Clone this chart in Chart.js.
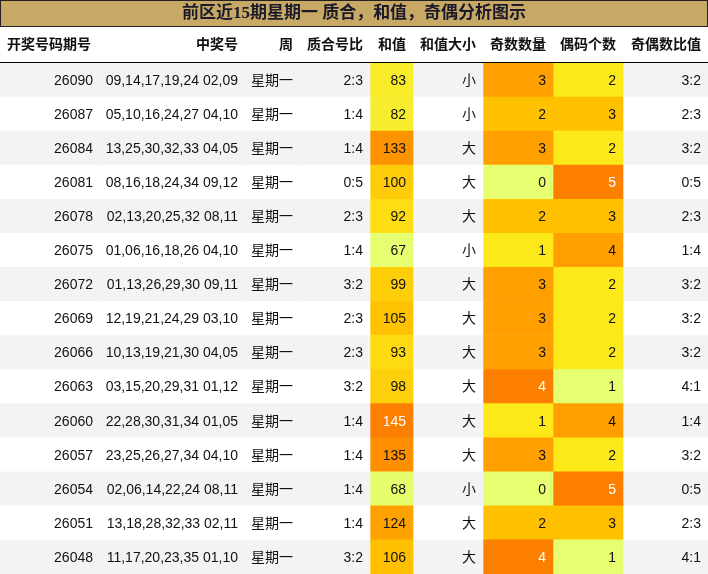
<!DOCTYPE html>
<html><head><meta charset="utf-8">
<script src="https://cdn.jsdelivr.net/npm/chart.js@4/dist/chart.umd.min.js"></script>
<style>html,body{margin:0;padding:0;background:#fff}#wrap{width:708px;height:574px}</style>
</head><body><div id="wrap"><canvas id="c"></canvas></div>
<script>
// Table data
const titleText = '前区近15期星期一 质合，和值，奇偶分析图示';
const headers = ['开奖号码期号', '中奖号', '周', '质合号比', '和值', '和值大小', '奇数数量', '偶码个数', '奇偶数比值'];
const issues = ['26090','26087','26084','26081','26078','26075','26072','26069','26066','26063','26060','26057','26054','26051','26048'];
const numbers = ['09,14,17,19,24 02,09','05,10,16,24,27 04,10','13,25,30,32,33 04,05','08,16,18,24,34 09,12','02,13,20,25,32 08,11',
  '01,06,16,18,26 04,10','01,13,26,29,30 09,11','12,19,21,24,29 03,10','10,13,19,21,30 04,05','03,15,20,29,31 01,12',
  '22,28,30,31,34 01,05','23,25,26,27,34 04,10','02,06,14,22,24 08,11','13,18,28,32,33 02,11','11,17,20,23,35 01,10'];
const weekday = '星期一';
const primeRatio = ['2:3','1:4','1:4','0:5','2:3','1:4','3:2','2:3','2:3','3:2','1:4','1:4','1:4','1:4','3:2'];
const sums = [83,82,133,100,92,67,99,105,93,98,145,135,68,124,106];
const sizeLabel = ['小','小','大','大','大','小','大','大','大','大','大','大','小','大','大'];
const oddCount = [3,2,3,0,2,1,3,3,3,4,1,3,0,2,4];
const evenCount = [2,3,2,5,3,4,2,2,2,1,4,2,5,3,1];
const oddEvenRatio = ['3:2','2:3','3:2','0:5','2:3','1:4','3:2','3:2','3:2','4:1','1:4','3:2','0:5','2:3','4:1'];

const colWidths = [100,145,55,70,43,70,70,70,85];
const stops = [[229,255,112],[253,232,26],[255,192,0],[255,159,0],[252,127,0]];
function heat(v, lo, hi) {
  let t = (v - lo) / (hi - lo) * 4;
  const i = Math.min(3, Math.floor(t)), f = t - i;
  const a = stops[i], b = stops[i + 1];
  return 'rgb(' + a.map((c, k) => Math.round(c + (b[k] - c) * f)).join(',') + ')';
}
function scaleOf(arr, lo, hi) {
  return arr.map(v => ({ bg: heat(v, lo, hi), fg: (v - lo) / (hi - lo) > 0.9 ? '#fff' : '#111' }));
}
const stripe = issues.map((_, i) => i % 2 === 0 ? '#f3f3f3' : '#ffffff');
const sumCells = scaleOf(sums, 67, 145);
const oddCells = scaleOf(oddCount, 0, 4);
const evenCells = scaleOf(evenCount, 1, 5);

const columns = [
  { text: issues, bg: stripe },
  { text: numbers, bg: stripe },
  { text: issues.map(() => weekday), bg: stripe },
  { text: primeRatio, bg: stripe },
  { text: sums.map(String), bg: sumCells.map(c => c.bg), fg: sumCells.map(c => c.fg) },
  { text: sizeLabel, bg: stripe },
  { text: oddCount.map(String), bg: oddCells.map(c => c.bg), fg: oddCells.map(c => c.fg) },
  { text: evenCount.map(String), bg: evenCells.map(c => c.bg), fg: evenCells.map(c => c.fg) },
  { text: oddEvenRatio, bg: stripe }
];

const FONT = '"Liberation Sans","Noto Sans CJK SC",sans-serif';

const tablePlugin = {
  id: 'table',
  beforeDraw(chart) {
    const ctx = chart.ctx;
    ctx.save();
    ctx.fillStyle = '#fff';
    ctx.fillRect(0, 0, chart.width, chart.height);
    ctx.fillStyle = '#c8a865';
    ctx.fillRect(0, 0, chart.width, 27);
    ctx.strokeStyle = '#222';
    ctx.lineWidth = 1;
    ctx.strokeRect(0.5, 0.5, chart.width - 1, 26);
    ctx.fillStyle = '#1a1a2a';
    ctx.font = 'bold 17px "Liberation Serif","Noto Sans CJK SC",serif';
    ctx.textAlign = 'center';
    ctx.textBaseline = 'middle';
    ctx.fillText(titleText, chart.width / 2, 14);
    ctx.restore();
  },
  afterDatasetsDraw(chart) {
    const ctx = chart.ctx;
    ctx.save();
    ctx.textBaseline = 'middle';
    // header
    ctx.font = 'bold 14px ' + FONT;
    ctx.fillStyle = '#111';
    chart.data.datasets.forEach((ds, di) => {
      const el = chart.getDatasetMeta(di).data[0];
      if (di === 0) { ctx.textAlign = 'left'; ctx.fillText(headers[di], el.base + 7, 45); }
      else { ctx.textAlign = 'right'; ctx.fillText(headers[di], el.x - 7, 45); }
    });
    ctx.strokeStyle = '#000';
    ctx.beginPath(); ctx.moveTo(0, 62.5); ctx.lineTo(chart.width, 62.5); ctx.stroke();
    // cells
    ctx.font = '14px ' + FONT;
    ctx.textAlign = 'right';
    chart.data.datasets.forEach((ds, di) => {
      const col = columns[di];
      chart.getDatasetMeta(di).data.forEach((el, ri) => {
        ctx.fillStyle = col.fg ? col.fg[ri] : '#111';
        ctx.fillText(col.text[ri], el.x - 7, el.y + 1);
      });
    });
    ctx.restore();
  }
};

new Chart(document.getElementById('c'), {
  type: 'bar',
  data: {
    labels: issues,
    datasets: columns.map((col, i) => ({
      label: headers[i],
      data: issues.map(() => colWidths[i]),
      backgroundColor: col.bg,
      borderWidth: 0,
      barPercentage: 1,
      categoryPercentage: 1
    }))
  },
  options: {
    indexAxis: 'y',
    responsive: true,
    maintainAspectRatio: false,
    animation: false,
    layout: { padding: { top: 63, left: 0, right: 0, bottom: 0 } },
    plugins: { legend: { display: false }, tooltip: { enabled: false } },
    scales: {
      x: { stacked: true, min: 0, max: 708, display: false },
      y: { stacked: true, display: false }
    }
  },
  plugins: [tablePlugin]
});
</script></body></html>
